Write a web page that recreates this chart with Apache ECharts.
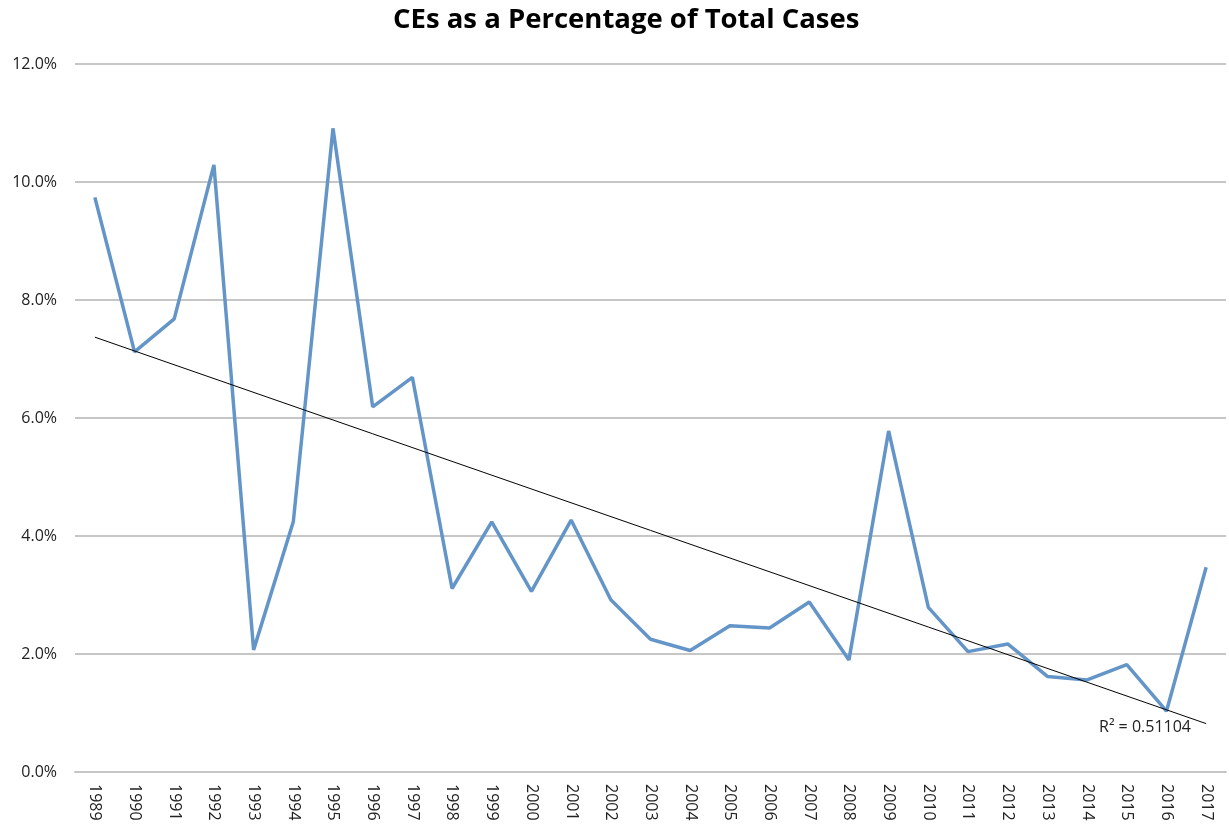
<!DOCTYPE html>
<html>
<head>
<meta charset="utf-8">
<script src="https://cdn.jsdelivr.net/npm/echarts@6/dist/echarts.min.js"></script>
<style>
  html, body { margin: 0; padding: 0; background: #fff; }
  #chart { width: 1229px; height: 826px; }
</style>
</head>
<body>
<div id="chart"></div>
<script>
// years on the x axis
var years = ['1989', '1990', '1991', '1992', '1993', '1994', '1995', '1996', '1997', '1998',
  '1999', '2000', '2001', '2002', '2003', '2004', '2005', '2006', '2007', '2008',
  '2009', '2010', '2011', '2012', '2013', '2014', '2015', '2016', '2017'];
// CEs as % of total cases
var cePercent = [9.74, 7.12, 7.68, 10.29, 2.07, 4.24, 10.91, 6.19, 6.69, 3.11,
  4.24, 3.06, 4.27, 2.92, 2.25, 2.06, 2.48, 2.44, 2.88, 1.90,
  5.78, 2.79, 2.04, 2.17, 1.62, 1.56, 1.82, 1.03, 3.47];
// linear trend line endpoints (1989, 2017)
var trendStart = 7.37;
var trendEnd = 0.82;
var rSquared = '0.51104';

var trendData = years.map(function (y, i) {
  if (i === 0) return trendStart;
  if (i === years.length - 1) return trendEnd;
  return null;
});

var chart = echarts.init(document.getElementById('chart'));
chart.setOption({
  animation: false,
  title: {
    text: 'CEs as a Percentage of Total Cases',
    left: 388,
    top: 1,
    textStyle: { fontFamily: 'Open Sans', fontWeight: 'bold', fontSize: 27.5, color: '#000' }
  },
  grid: { left: 75, right: 3, top: 64, bottom: 54 },
  xAxis: {
    type: 'category',
    data: years,
    boundaryGap: true,
    axisLine: { lineStyle: { color: '#c6c6c6', width: 2 } },
    axisTick: { show: false },
    axisLabel: {
      rotate: -90,
      interval: 0,
      margin: 12,
      fontFamily: 'Open Sans',
      fontSize: 16,
      color: '#222'
    }
  },
  yAxis: {
    type: 'value',
    min: 0,
    max: 12,
    interval: 2,
    axisLine: { show: false },
    axisTick: { show: false },
    splitLine: { lineStyle: { color: '#c6c6c6', width: 2 } },
    axisLabel: {
      margin: 18,
      fontFamily: 'Open Sans',
      fontSize: 16,
      color: '#222',
      formatter: function (v) { return v.toFixed(1) + '%'; }
    }
  },
  graphic: [{
    type: 'text',
    x: 1191,
    y: 727,
    style: {
      text: 'R² = ' + rSquared,
      font: '16px "Open Sans"',
      fill: '#222',
      textAlign: 'right',
      textVerticalAlign: 'middle'
    }
  }],
  series: [
    {
      type: 'line',
      data: cePercent,
      symbol: 'none',
      lineStyle: { color: '#6495c8', width: 3.5 },
      z: 2
    },
    {
      type: 'line',
      data: trendData,
      connectNulls: true,
      symbol: 'none',
      lineStyle: { color: '#000', width: 1 },
      z: 3
    }
  ]
});
</script>
</body>
</html>
